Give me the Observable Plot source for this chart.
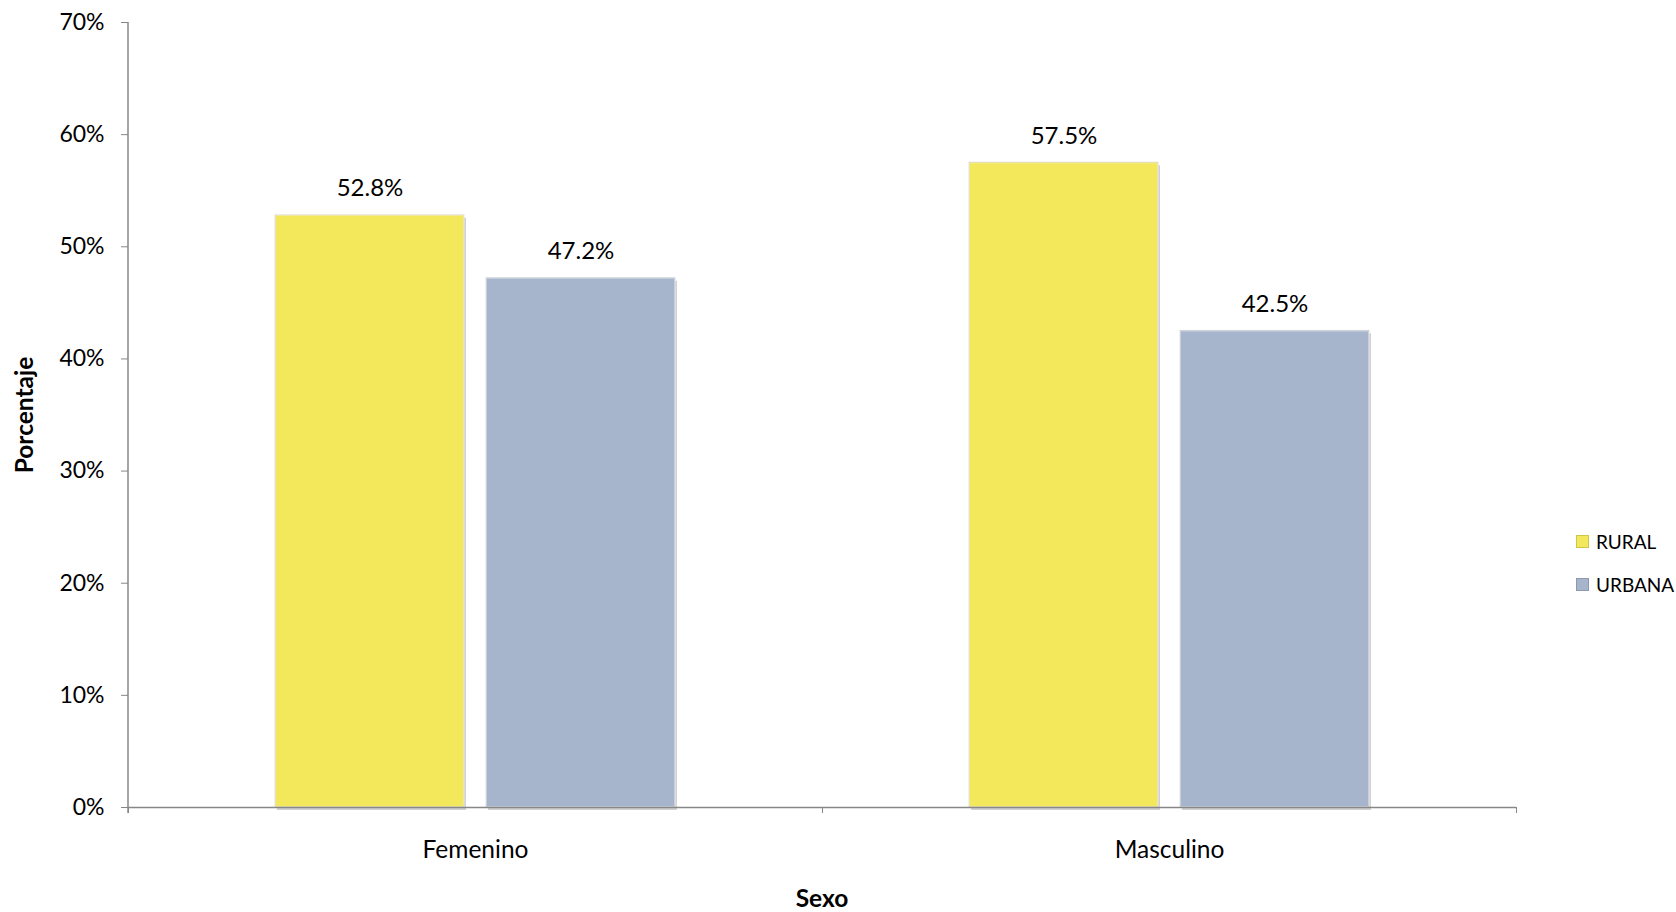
<!DOCTYPE html>
<html><head><meta charset="utf-8">
<script src="https://cdn.jsdelivr.net/npm/d3@7"></script>
<script src="https://cdn.jsdelivr.net/npm/@observablehq/plot@0.6"></script>
<style>
body{margin:0;background:#fff;font-family:Lato,"Open Sans",sans-serif;}
#wrap{position:relative;width:1676px;height:912px;overflow:hidden;}
.ttl{position:absolute;font-weight:bold;font-size:24.5px;line-height:24px;color:#000;white-space:nowrap;}
.leg{position:absolute;left:1576px;font-size:19px;color:#000;display:flex;align-items:center;white-space:nowrap;}
.sw{width:13px;height:13px;margin-right:7px;box-sizing:border-box;}
</style></head><body><div id="wrap"></div>
<script>
const sexos = ["Femenino", "Masculino"];
const zonas = ["RURAL", "URBANA"];
const rural = [0.528, 0.575];
const urbana = [0.472, 0.425];
const colors = ["#f3e85b", "#a6b5cc"];
const yTicks = [0, 0.1, 0.2, 0.3, 0.4, 0.5, 0.6, 0.7];
const xTitle = "Sexo";
const yTitle = "Porcentaje";

const data = sexos.flatMap((s, i) => [
  {sexo: s, zona: zonas[0], valor: rural[i]},
  {sexo: s, zona: zonas[1], valor: urbana[i]}
]);
const pct = d => (d * 100).toFixed(1) + "%";

const plot = Plot.plot({
  width: 1676, height: 912,
  marginTop: 22, marginBottom: 105, marginLeft: 128, marginRight: 160,
  style: {fontFamily: "Lato, 'Open Sans', sans-serif", fontSize: "23px", color: "#000", background: "#fff"},
  fx: {domain: sexos, padding: 0, label: null, axis: null},
  x: {domain: zonas, paddingInner: 0.104, paddingOuter: 0.689, axis: null},
  y: {domain: [0, 0.7], axis: null},
  color: {domain: zonas, range: colors},
  marks: [
    Plot.barY(data, {fx: "sexo", x: "zona", y: "valor", fill: "#000", fillOpacity: 0.18, dx: 2, dy: 3}),
    Plot.barY(data, {fx: "sexo", x: "zona", y: "valor", fill: "zona", stroke: "#fff", strokeOpacity: 0.55, strokeWidth: 2}),
    Plot.barY(data, {fx: "sexo", x: "zona", y: "valor", fill: "none", stroke: "#000", strokeOpacity: 0.12, strokeWidth: 1}),
    Plot.text(data, {fx: "sexo", x: "zona", y: "valor", text: d => pct(d.valor), lineAnchor: "bottom", dy: -19, fontSize: 24, fill: "#000"}),
    Plot.ruleY([0], {stroke: "#878787", strokeWidth: 1.5}),
    Plot.axisY({ticks: yTicks, tickFormat: d => Math.round(d * 100) + "%", tickSize: 7, tickPadding: 17, label: null, stroke: "#878787", fill: "#000", fontSize: 23}),
    Plot.axisFx({anchor: "bottom", tickSize: 0, tickPadding: 33, label: null, fontSize: 24.5, fill: "#000"}),
    Plot.axisFx({anchor: "bottom", tickSize: 6, tickFormat: () => "", label: null, stroke: "#878787", dx: -347}),
    Plot.axisFx({anchor: "bottom", ticks: ["Masculino"], tickSize: 6, tickFormat: () => "", label: null, stroke: "#878787", dx: 347})
  ]
});

const wrap = document.getElementById("wrap");
wrap.appendChild(plot);

// vertical axis line at the left edge of the frame, from the library's scales
const ys = plot.scale("y"), fxs = plot.scale("fx");
d3.select(plot).append("line")
  .attr("x1", fxs.range[0]).attr("x2", fxs.range[0])
  .attr("y1", ys.range[0] + 6).attr("y2", ys.range[1])
  .attr("stroke", "#878787").attr("stroke-width", 1.5);

const xt = document.createElement("div");
xt.className = "ttl"; xt.textContent = xTitle;
xt.style.left = "822px"; xt.style.top = "898px"; xt.style.transform = "translate(-50%,-50%)";
wrap.appendChild(xt);

const yt = document.createElement("div");
yt.className = "ttl"; yt.textContent = yTitle;
yt.style.left = "24px"; yt.style.top = "415px"; yt.style.transform = "translate(-50%,-50%) rotate(-90deg)";
wrap.appendChild(yt);

const legY = [541, 584];
zonas.forEach((z, i) => {
  const row = document.createElement("div");
  row.className = "leg";
  row.style.top = (legY[i] - 11) + "px";
  row.style.height = "22px";
  const sw = document.createElement("div");
  sw.className = "sw"; sw.style.background = colors[i];
  sw.style.border = "1px solid rgba(0,0,0,0.15)";
  row.appendChild(sw);
  const t = document.createElement("span"); t.textContent = z;
  row.appendChild(t);
  wrap.appendChild(row);
});
</script></body></html>
